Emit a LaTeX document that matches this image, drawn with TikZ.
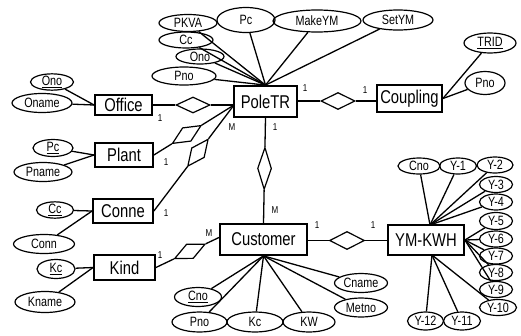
\documentclass[tikz,border=0pt]{standalone}
\usepackage{fontspec}
\setmainfont{Liberation Sans}[FakeStretch=0.8]
\usetikzlibrary{shapes.geometric}
\begin{document}
\begin{tikzpicture}[x=1pt,y=-1pt,
  ent/.style={draw, line width=1.8pt, rectangle, inner sep=0pt, font=\fontsize{18.5}{18.5}\selectfont},
  att/.style={draw, ellipse, line width=1.2pt, inner sep=0pt, font=\fontsize{13.5}{13.5}\selectfont},
  rel/.style={draw, diamond, line width=1.2pt, inner sep=0pt, minimum width=34pt, minimum height=16pt},
  ln/.style={line width=1.3pt},
  card/.style={font=\fontsize{10}{10}\selectfont, inner sep=0pt}]
\useasboundingbox (0,0) rectangle (521,335);
% entities
\node[ent, minimum width=57pt, minimum height=20pt] (office) at (123.5,105) {Office};
\node[ent, minimum width=58pt, minimum height=24pt] (plant) at (124,155) {Plant};
\node[ent, minimum width=60pt, minimum height=24pt] (conne) at (123,211) {Conne};
\node[ent, minimum width=61pt, minimum height=25pt] (kind) at (124.5,267.5) {Kind};
\node[ent, minimum width=63pt, minimum height=31pt] (poletr) at (265.5,101.5) {PoleTR};
\node[ent, minimum width=65pt, minimum height=27pt] (coupling) at (409.5,98.5) {Coupling};
\node[ent, minimum width=87pt, minimum height=31pt] (customer) at (263.5,239.5) {Customer};
\node[ent, minimum width=76pt, minimum height=30pt] (ymkwh) at (426,240) {YM-KWH};
% helper coordinates
\coordinate (pL) at (234,105);
\coordinate (cL) at (220,237);
\coordinate (yT) at (430,225);
\coordinate (yB) at (432,255);
% relationships
\node[rel] (doff) at (193,105) {};
\draw[ln] (office.east) -- (doff.west);
\draw[ln] (doff.east) -- (pL);
\path (plant.east) -- node[rel, sloped, pos=0.41] (dplant) {} (pL);
\draw[ln] (plant.east) -- (dplant) -- (pL);
\path (conne.east) -- node[rel, sloped, pos=0.55] (dconne) {} (pL);
\draw[ln] (conne.east) -- (dconne) -- (pL);
\node[rel, minimum height=17pt] (dcoup) at (338,101) {};
\draw[ln] (poletr.east |- dcoup) -- (dcoup.west);
\draw[ln] (dcoup.east) -- (coupling.west |- dcoup);
\path (poletr.south) -- node[rel, sloped, pos=0.48, minimum width=42pt, minimum height=14pt] (dpc) {} (customer.north);
\draw[ln] (poletr.south) -- (dpc) -- (customer.north);
\path (kind.east) -- node[rel, sloped, pos=0.53] (dkind) {} (cL);
\draw[ln] (kind.east) -- (dkind) -- (cL);
\node[rel, minimum width=35pt, minimum height=18pt] (dcy) at (347,240.5) {};
\draw[ln] (customer.east |- dcy) -- (dcy.west);
\draw[ln] (dcy.east) -- (ymkwh.west |- dcy);
% cardinalities
\node[card] (c1) at (160,118) {1};
\node[card] (c2) at (232,127) {M};
\node[card] (c3) at (166,162) {1};
\node[card] (c4) at (166,213) {1};
\node[card] (c5) at (305,88) {1};
\node[card] (c6) at (365,90) {1};
\node[card] (c7) at (275,127) {1};
\node[card] (c8) at (275,210) {M};
\node[card] (c9) at (209,233) {M};
\node[card] (c10) at (160,255) {1};
\node[card] (c11) at (317,225) {1};
\node[card] (c12) at (373,225) {1};
% Office attributes
\node[att, minimum width=43pt, minimum height=15pt] (ono) at (52,82) {\underline{Ono}};
\node[att, minimum width=60pt, minimum height=19pt] (oname) at (42,103) {Oname};
\draw[ln] (office.west) -- (ono);
\draw[ln] (office.west) -- (oname);
% Plant attributes
\node[att, minimum width=40pt, minimum height=17pt] (ppc) at (53,148) {\underline{Pc}};
\node[att, minimum width=58pt, minimum height=19pt] (pname) at (43,172) {Pname};
\draw[ln] (plant.west) -- (ppc);
\draw[ln] (plant.west) -- (pname);
% Conne attributes
\node[att, minimum width=37pt, minimum height=16pt] (ccc) at (55,210) {\underline{Cc}};
\node[att, minimum width=61pt, minimum height=19pt] (conn) at (44,244) {Conn};
\draw[ln] (conne.west) -- (ccc);
\draw[ln] (conne.west) -- (conn);
% Kind attributes
\node[att, minimum width=38pt, minimum height=19pt] (kkc) at (56,269) {\underline{Kc}};
\node[att, minimum width=60pt, minimum height=21pt] (kname) at (45,302) {Kname};
\draw[ln] (kind.west) -- (kkc);
\draw[ln] (kind.west) -- (kname);
% PoleTR attributes
\node[att, minimum width=58pt, minimum height=17pt] (pkva) at (188,23) {PKVA};
\node[att, minimum width=58pt, minimum height=25pt] (tpc) at (246,20) {Pc};
\node[att, minimum width=88pt, minimum height=22pt] (makeym) at (317,21) {MakeYM};
\node[att, minimum width=70pt, minimum height=20pt] (setym) at (398,20) {SetYM};
\node[att, minimum width=54pt, minimum height=16pt] (tcc) at (186,40) {Cc};
\node[att, minimum width=48pt, minimum height=15pt] (tono) at (200,56.5) {Ono};
\node[att, minimum width=64pt, minimum height=18pt] (tpno) at (184,76) {Pno};
\foreach \a in {pkva,tpc,makeym,setym,tcc,tono,tpno}
  \draw[ln] (poletr.north) -- (\a);
% Coupling attributes
\node[att, minimum width=52pt, minimum height=20pt] (trid) at (490,43) {\underline{TRID}};
\node[att, minimum width=40pt, minimum height=23pt] (cpno) at (485,83) {Pno};
\draw[ln] (coupling.east) -- (trid);
\draw[ln] (coupling.east) -- (cpno);
% Customer attributes
\node[att, minimum width=47pt, minimum height=19pt] (ucno) at (198,297) {\underline{Cno}};
\node[att, minimum width=55pt, minimum height=20pt] (upno) at (199.5,322) {Pno};
\node[att, minimum width=56pt, minimum height=20pt] (ukc) at (255,322) {Kc};
\node[att, minimum width=52pt, minimum height=20pt] (ukw) at (309,322) {KW};
\node[att, minimum width=53pt, minimum height=19pt] (ucname) at (361,283) {Cname};
\node[att, minimum width=53pt, minimum height=19pt] (umetno) at (361,307.5) {Metno};
\foreach \a in {ucno,upno,ukc,ukw,ucname,umetno}
  \draw[ln] (customer.south) -- (\a);
% YM-KWH attributes
\node[att, minimum width=42pt, minimum height=16pt] (ycno) at (419,166) {Cno};
\node[att, minimum width=37pt, minimum height=16pt] (y1) at (458,166) {Y-1};
\node[att, minimum width=36pt, minimum height=16pt] (y2) at (495,165) {Y-2};
\node[att, minimum width=33pt, minimum height=16pt] (y3) at (496,184.5) {Y-3};
\node[att, minimum width=33pt, minimum height=16pt] (y4) at (496,202) {Y-4};
\node[att, minimum width=33pt, minimum height=17pt] (y5) at (496,221) {Y-5};
\node[att, minimum width=33pt, minimum height=16pt] (y6) at (496,239) {Y-6};
\node[att, minimum width=33pt, minimum height=16pt] (y7) at (496,256) {Y-7};
\node[att, minimum width=33pt, minimum height=16pt] (y8) at (496,272.5) {Y-8};
\node[att, minimum width=33pt, minimum height=16pt] (y9) at (496,289.5) {Y-9};
\node[att, minimum width=37pt, minimum height=16pt] (y10) at (498,307.5) {Y-10};
\node[att, minimum width=36pt, minimum height=18pt] (y12) at (425.5,321) {Y-12};
\node[att, minimum width=37pt, minimum height=18pt] (y11) at (462,321) {Y-11};
\foreach \a in {ycno,y1,y2,y3,y4}
  \draw[ln] (yT) -- (\a);
\foreach \a in {y5,y6,y7,y8,y9}
  \draw[ln] (ymkwh.east) -- (\a);
\foreach \a in {y10,y11,y12}
  \draw[ln] (yB) -- (\a);
\end{tikzpicture}
\end{document}
